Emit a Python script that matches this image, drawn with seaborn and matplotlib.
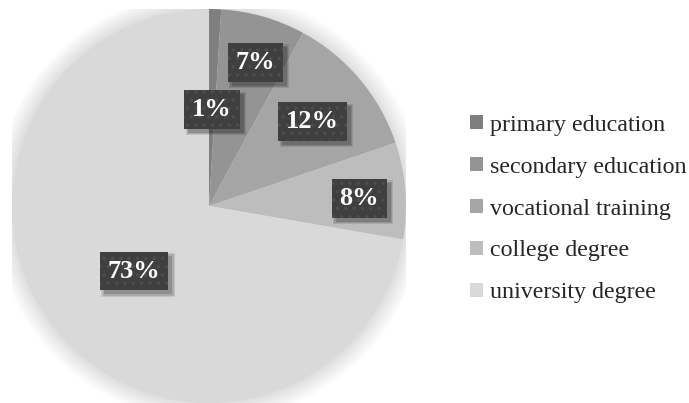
import matplotlib
matplotlib.use("Agg")
import matplotlib.pyplot as plt
from matplotlib.patches import Circle, Rectangle
import seaborn as sns

sns.set_style("white")
plt.rcParams["font.family"] = ["Liberation Serif", "DejaVu Serif"]
plt.rcParams["hatch.linewidth"] = 1.2

categories = ["primary education", "secondary education", "vocational training",
              "college degree", "university degree"]
shares = [1, 7, 12, 8, 73]
colors = ["#7f7f7f", "#949494", "#a5a5a5", "#bdbdbd", "#d9d9d9"]
# label box centres, in pie-radius units
label_xy = [(0.015, 0.49), (0.235, 0.73), (0.525, 0.43), (0.763, 0.04), (-0.38, -0.33)]

R_PX = 197
CX, CY = 209, 206
fig = plt.figure(figsize=(6.89, 4.03), dpi=100)
ax = fig.add_axes([(CX - R_PX) / 689, (403 - CY - R_PX) / 403,
                   2 * R_PX / 689, 2 * R_PX / 403])

# soft glow behind the pie
for i in range(16):
    ax.add_patch(Circle((0.0, 0.0), 1.0 + 0.006 * (16 - i), color="#000000",
                        alpha=0.006, lw=0, zorder=0))

wedges, _ = ax.pie(shares, colors=colors, startangle=90, counterclock=False,
                   radius=1.0, wedgeprops=dict(linewidth=0))
for w in wedges:
    w.set_zorder(2)

ax.set_aspect("equal")
ax.set_xlim(-1, 1)
ax.set_ylim(-1, 1)
ax.axis("off")

labels = []
for v, (x, y) in zip(shares, label_xy):
    t = ax.text(x, y, f"{v}%", ha="center", va="center", fontsize=19,
                fontweight="bold", color="white", zorder=4,
                bbox=dict(boxstyle="square,pad=0.3", facecolor="#3f3f3f",
                          edgecolor="#4e4e4e", hatch="..", lw=0))
    labels.append(t)

# drop shadows under the label boxes
fig.canvas.draw()
renderer = fig.canvas.get_renderer()
inv = ax.transData.inverted()
for t in labels:
    bb = t.get_bbox_patch().get_window_extent(renderer)
    (x0, y0), (x1, y1) = inv.transform([(bb.x0 + 4, bb.y0 - 4), (bb.x1 + 4, bb.y1 - 4)])
    for k, a in ((2, 0.10), (1, 0.12), (0, 0.16)):
        d = k * 0.006
        ax.add_patch(Rectangle((x0 - d, y0 - d), x1 - x0 + 2 * d, y1 - y0 + 2 * d,
                               facecolor="black", alpha=a, lw=0, zorder=3))

fig.legend(wedges, categories, loc="center left",
           bbox_to_anchor=(470 / 689, 1 - 209 / 403), frameon=False,
           fontsize=17.3, handlelength=0.55, handleheight=0.55, handletextpad=0.3,
           labelspacing=0.87, borderaxespad=0, borderpad=0)

fig.savefig("out.png", dpi=100)
